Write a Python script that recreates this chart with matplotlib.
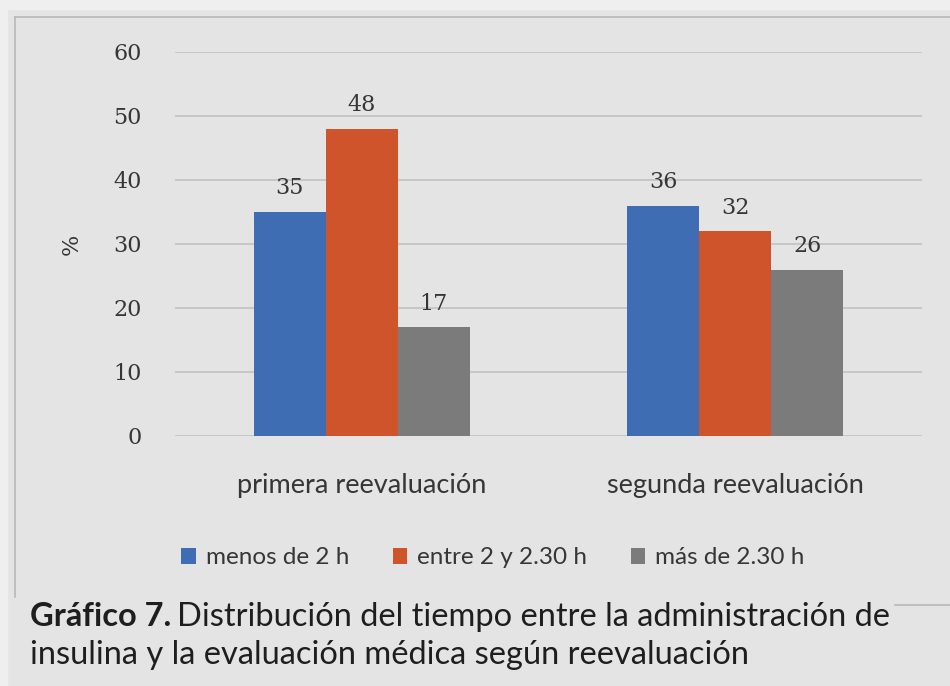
import numpy as np
import matplotlib.pyplot as plt
from matplotlib.lines import Line2D
from matplotlib.patches import Rectangle

categories = ['primera reevaluación', 'segunda reevaluación']
series_names = ['menos de 2 h', 'entre 2 y 2.30 h', 'más de 2.30 h']
menos_2h = [35, 36]
entre_2_230 = [48, 32]
mas_230 = [17, 26]
yticks = [0, 10, 20, 30, 40, 50, 60]

colors = ['#3e6db4', '#d0542b', '#7b7b7b']
bg = '#e4e4e4'
txt = '#363636'

fig = plt.figure(figsize=(9.5, 6.86), dpi=100, facecolor=bg)

# lighter outer strip and the frame lines
fig.patches.append(Rectangle((0, 1 - 9/686), 1, 9/686, transform=fig.transFigure,
                             color='#efefef', zorder=0))
fig.patches.append(Rectangle((0, 0), 7/950, 1, transform=fig.transFigure,
                             color='#efefef', zorder=0))
fig.lines.append(Line2D([15/950, 1], [1 - 17/686, 1 - 17/686], transform=fig.transFigure,
                        color='#b8b8b8', lw=1.2))
fig.lines.append(Line2D([15/950, 15/950], [1 - 17/686, 1 - 597/686], transform=fig.transFigure,
                        color='#b8b8b8', lw=1.2))
fig.lines.append(Line2D([895/950, 1], [1 - 605/686, 1 - 605/686], transform=fig.transFigure,
                        color='#b8b8b8', lw=1.2))

ax = fig.add_axes([175/950, 250/686, 747/950, 384/686])
ax.set_facecolor(bg)

x = np.arange(len(categories))
w = 0.193
for i, (vals, name) in enumerate(zip([menos_2h, entre_2_230, mas_230], series_names)):
    bars = ax.bar(x + (i - 1) * w, vals, width=w, color=colors[i], label=name, zorder=3)
    for b, v in zip(bars, vals):
        ax.annotate(str(v), (b.get_x() + b.get_width() / 2, v), xytext=(0, 9),
                    textcoords='offset points', ha='center', va='bottom',
                    fontsize=16, color=txt, family='DejaVu Serif')

ax.set_xlim(-0.5, 1.5)
ax.set_ylim(0, 60)
ax.set_yticks(yticks)
ax.set_yticklabels([str(t) for t in yticks], fontsize=16, color=txt, family='DejaVu Serif')
ax.set_xticks(x)
ax.set_xticklabels(categories, fontsize=19.5, color=txt, family='Lato')
ax.tick_params(length=0)
ax.tick_params(axis='y', pad=24)
ax.tick_params(axis='x', pad=27)
ax.grid(axis='y', color='#c2c2c2', lw=1.2, zorder=0)
for s in ax.spines.values():
    s.set_visible(False)
ax.set_ylabel('%', fontsize=16, color=txt, labelpad=22, family='DejaVu Serif')

fig.legend(loc='center', bbox_to_anchor=(493/950, 1 - 558/686), ncol=3, frameon=False,
           prop={'family': 'Lato', 'size': 17.5}, labelcolor=txt, handlelength=0.6,
           handleheight=0.6, handletextpad=0.4, columnspacing=1.8)

# caption with bold lead
cap_font = ['Lato', 'DejaVu Sans']
t1 = fig.text(30/950, 1 - 617/686, 'Gráfico 7.', fontsize=23.5, fontweight='bold',
              color='#1e1e1e', family=cap_font, va='center')
fig.canvas.draw()
bb = t1.get_window_extent().transformed(fig.transFigure.inverted())
fig.text(bb.x1 + 6/950, 1 - 617/686, 'Distribución del tiempo entre la administración de',
         fontsize=23.5, color='#1e1e1e', family=cap_font, va='center')
fig.text(30/950, 1 - 655/686, 'insulina y la evaluación médica según reevaluación',
         fontsize=23.5, color='#1e1e1e', family=cap_font, va='center')

fig.savefig('out.png', dpi=100, facecolor=bg)
